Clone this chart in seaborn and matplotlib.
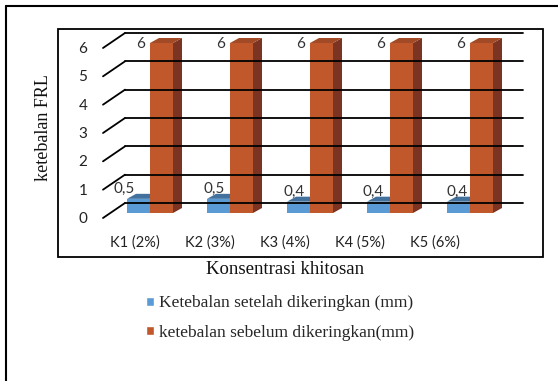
import numpy as np
import pandas as pd
import matplotlib
matplotlib.use("Agg")
import matplotlib.pyplot as plt
import seaborn as sns
from matplotlib.patches import Polygon, Rectangle, Patch
from matplotlib.lines import Line2D

# ---- data ----
categories = ["K1 (2%)", "K2 (3%)", "K3 (4%)", "K4 (5%)", "K5 (6%)"]
setelah = [0.5, 0.5, 0.4, 0.4, 0.4]
sebelum = [6, 6, 6, 6, 6]
label_setelah = ["0,5", "0,5", "0,4", "0,4", "0,4"]
label_sebelum = ["6", "6", "6", "6", "6"]
series_names = ["Ketebalan setelah dikeringkan (mm)", "ketebalan sebelum dikeringkan(mm)"]
yticks = [0, 1, 2, 3, 4, 5, 6]

df = pd.DataFrame({
    "kategori": categories * 2,
    "nilai": setelah + sebelum,
    "seri": [series_names[0]] * len(categories) + [series_names[1]] * len(categories),
})

sns.set_style("white")
plt.rcParams["font.family"] = ["Liberation Serif", "DejaVu Serif"]
SANS = ["Lato", "DejaVu Sans"]

W, H = 558, 381
fig = plt.figure(figsize=(W / 100, H / 100), dpi=100)

front_cols = ["#5B9BD5", "#C0582B"]
top_cols = ["#41719C", "#A14A25"]
side_cols = ["#2E5A85", "#7A3421"]

ax = fig.add_axes([110 / W, 1 - 213 / H, 400 / W, 170 / H])
sns.barplot(data=df, x="kategori", y="nilai", hue="seri", palette=front_cols,
            saturation=1, width=0.575, dodge=True, legend=False, ax=ax,
            linewidth=0, edgecolor="none")
ax.set_xlim(-0.5, 4.5)
ax.set_ylim(0, 6)
ax.axis("off")

def disp_y(v):
    return ax.transData.transform((0, v))[1]

# back-wall gridlines with perspective diagonals
for v in yticks:
    yb = disp_y(v)
    fig.add_artist(Line2D([125 / W, 523 / W], [(yb + 10) / H, (yb + 10) / H],
                          transform=fig.transFigure, color="black", lw=1.3, zorder=1))
    fig.add_artist(Line2D([103 / W, 125 / W], [(yb - 5) / H, (yb + 10) / H],
                          transform=fig.transFigure, color="black", lw=1.3, zorder=1))
    fig.text(83 / W, (yb - 6) / H, str(v), ha="center", va="center",
             family=SANS, fontsize=11, color="#222222")

# 3D faces for bars
ppx = ax.transData.transform((1, 0))[0] - ax.transData.transform((0, 0))[0]
ppy = ax.transData.transform((0, 1))[1] - ax.transData.transform((0, 0))[1]
dx, dy = 9 / ppx, 5 / ppy
for si, cont in enumerate(ax.containers):
    for bar in cont:
        x0, y0 = bar.get_x(), bar.get_y()
        x1, y1 = x0 + bar.get_width(), y0 + bar.get_height()
        z = 2 + 2 * si
        bar.set_zorder(z + 0.5)
        ax.add_patch(Polygon([(x1, y0), (x1, y1), (x1 + dx, y1 + dy), (x1 + dx, y0 + dy)],
                             closed=True, fc=side_cols[si], ec="none", zorder=z, clip_on=False))
        ax.add_patch(Polygon([(x0, y1), (x1, y1), (x1 + dx, y1 + dy), (x0 + dx, y1 + dy)],
                             closed=True, fc=top_cols[si], ec="none", zorder=z, clip_on=False))

# data labels
blue_nudge = [-14, -4, -4, -5, -1]
for i, bar in enumerate(ax.containers[0]):
    cx = bar.get_x() + bar.get_width() / 2
    top = bar.get_height()
    px, py = ax.transData.transform((cx, top))
    fig.text((px + blue_nudge[i]) / W, (py + 10) / H, label_setelah[i], ha="center",
             va="center", family=SANS, fontsize=11, color="#333333")
for i, bar in enumerate(ax.containers[1]):
    cx = bar.get_x() + bar.get_width() / 2
    top = bar.get_height()
    px, py = ax.transData.transform((cx, top))
    fig.text((px - 21) / W, (py - 1) / H, label_sebelum[i], ha="center",
             va="center", family=SANS, fontsize=11, color="#333333")

# category labels (front edge of floor)
for i, c in enumerate(categories):
    fig.text((135 + 75 * i) / W, 1 - 243 / H, c, ha="center", va="center",
             family=SANS, fontsize=10.5, color="#222222")

# axis titles
fig.text(285 / W, 1 - 270 / H, "Konsentrasi khitosan", ha="center", va="center",
         fontsize=13.5, color="#111111")
fig.text(43 / W, 1 - 128 / H, "ketebalan FRL", ha="center", va="center",
         rotation=90, fontsize=13, color="#111111")

# legend
handles = [Patch(facecolor=front_cols[0]), Patch(facecolor=front_cols[1])]
fig.legend(handles, series_names, loc="center", bbox_to_anchor=(280 / W, 1 - 318 / H),
           frameon=False, fontsize=12.5, handlelength=0.45, handleheight=0.45,
           handletextpad=0.3, labelspacing=0.75, borderpad=0)

# frames
fig.add_artist(Rectangle((58 / W, 1 - 257 / H), (543 - 58) / W, (257 - 29) / H,
                         transform=fig.transFigure, fill=False, ec="black", lw=1.3))
fig.add_artist(Line2D([6 / W, 6 / W], [0, 1 - 6 / H], transform=fig.transFigure,
                      color="black", lw=1.5))
fig.add_artist(Line2D([6 / W, 1], [1 - 6 / H, 1 - 6 / H], transform=fig.transFigure,
                      color="black", lw=1.5))

fig.savefig("out.png", dpi=100, facecolor="white")
